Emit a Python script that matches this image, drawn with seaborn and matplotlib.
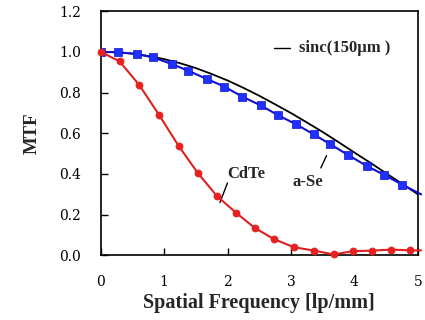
import matplotlib
matplotlib.use("Agg")
import matplotlib.pyplot as plt
import seaborn as sns
import pandas as pd
import numpy as np

# a-Se (blue squares)
ase_freq = [0.0, 0.28, 0.57, 0.83, 1.12, 1.38, 1.67, 1.95, 2.23, 2.52, 2.80,
            3.08, 3.36, 3.62, 3.90, 4.19, 4.47, 4.75]
ase_mtf = [1.0, 0.997, 0.989, 0.972, 0.94, 0.907, 0.867, 0.829, 0.78, 0.737,
           0.688, 0.644, 0.594, 0.546, 0.493, 0.44, 0.395, 0.348]
ase_tail = [5.05, 0.30]

# CdTe (red circles)
cdte_freq = [0.0, 0.30, 0.61, 0.92, 1.23, 1.53, 1.83, 2.13, 2.43, 2.73, 3.04,
             3.36, 3.67, 3.97, 4.28, 4.58, 4.88]
cdte_mtf = [1.0, 0.953, 0.837, 0.691, 0.538, 0.406, 0.293, 0.211, 0.135,
            0.081, 0.041, 0.024, 0.005, 0.021, 0.024, 0.029, 0.025]
cdte_tail = [5.05, 0.025]

# sinc(150um) curve
sinc_freq = [0.0, 0.25, 0.5, 0.75, 1.0, 1.25, 1.5, 1.75, 2.0, 2.25, 2.5, 2.75,
             3.0, 3.25, 3.5, 3.75, 4.0, 4.25, 4.5, 4.75, 5.0]
sinc_mtf = [1.0, 0.998, 0.991, 0.979, 0.964, 0.944, 0.920, 0.891, 0.859, 0.823,
            0.784, 0.742, 0.699, 0.653, 0.606, 0.556, 0.505, 0.455, 0.403, 0.352, 0.300]

sns.set_style("white")
plt.rcParams['font.family'] = ['Liberation Serif', 'DejaVu Serif']

fig = plt.figure(figsize=(4.25, 3.2), dpi=100)
ax = fig.add_axes([0.2365, 0.2016, 0.747, 0.764])

sinc_df = pd.DataFrame({'f': sinc_freq, 'mtf': sinc_mtf})
sns.lineplot(x='f', y='mtf', data=sinc_df, ax=ax, color='black', linewidth=1.3, zorder=2)

ase_df = pd.DataFrame({'f': ase_freq + [ase_tail[0]], 'mtf': ase_mtf + [ase_tail[1]]})
sns.lineplot(x='f', y='mtf', data=ase_df, ax=ax, color='#1010d0', linewidth=1.5, zorder=3,
             clip_on=False)
sns.scatterplot(x=ase_freq, y=ase_mtf, ax=ax, marker='s', s=30, color='#2030ff',
                edgecolor='#1010d0', linewidth=0.5, zorder=4)

cdte_df = pd.DataFrame({'f': cdte_freq + [cdte_tail[0]], 'mtf': cdte_mtf + [cdte_tail[1]]})
sns.lineplot(x='f', y='mtf', data=cdte_df, ax=ax, color='#e02020', linewidth=1.5, zorder=5,
             clip_on=False)
sns.scatterplot(x=cdte_freq, y=cdte_mtf, ax=ax, marker='o', s=26, color='#e82020',
                edgecolor='#e02020', linewidth=0.5, zorder=6, clip_on=False)

ax.set_xlim(0, 5)
ax.set_ylim(0, 1.2)
ax.set_xticks([0, 1, 2, 3, 4, 5])
ax.set_yticks([0.0, 0.2, 0.4, 0.6, 0.8, 1.0, 1.2])
ax.set_yticklabels(['0.0', '0.2', '0.4', '0.6', '0.8', '1.0', '1.2'])
ax.tick_params(direction='in', length=5, width=1, labelsize=10, colors='black')
ax.tick_params(axis='y', left=True, pad=14)
ax.tick_params(axis='x', bottom=True, pad=14)
for lab in ax.get_xticklabels() + ax.get_yticklabels():
    lab.set_family('DejaVu Serif')
for side in ['left', 'bottom', 'top', 'right']:
    ax.spines[side].set_color('black')
    ax.spines[side].set_linewidth(1.2)

ax.set_xlabel('Spatial Frequency [lp/mm]', fontsize=14.5, fontweight='bold', labelpad=3)
ax.set_ylabel('MTF', fontsize=13.5, fontweight='bold', labelpad=13)

# annotations
ax.plot([2.74, 2.98], [1.02, 1.02], color='black', linewidth=1)
ax.text(3.12, 1.02, 'sinc(150\u00b5m )', fontsize=12, fontweight='bold', va='center', ha='left')
ax.text(2.30, 0.40, 'CdTe', fontsize=12, fontweight='bold', va='center', ha='center')
ax.plot([2.00, 1.88], [0.356, 0.26], color='black', linewidth=1)
ax.text(3.26, 0.36, 'a-Se', fontsize=12, fontweight='bold', va='center', ha='center')
ax.plot([3.56, 3.47], [0.49, 0.43], color='black', linewidth=1)

fig.savefig('out.png', dpi=100)
